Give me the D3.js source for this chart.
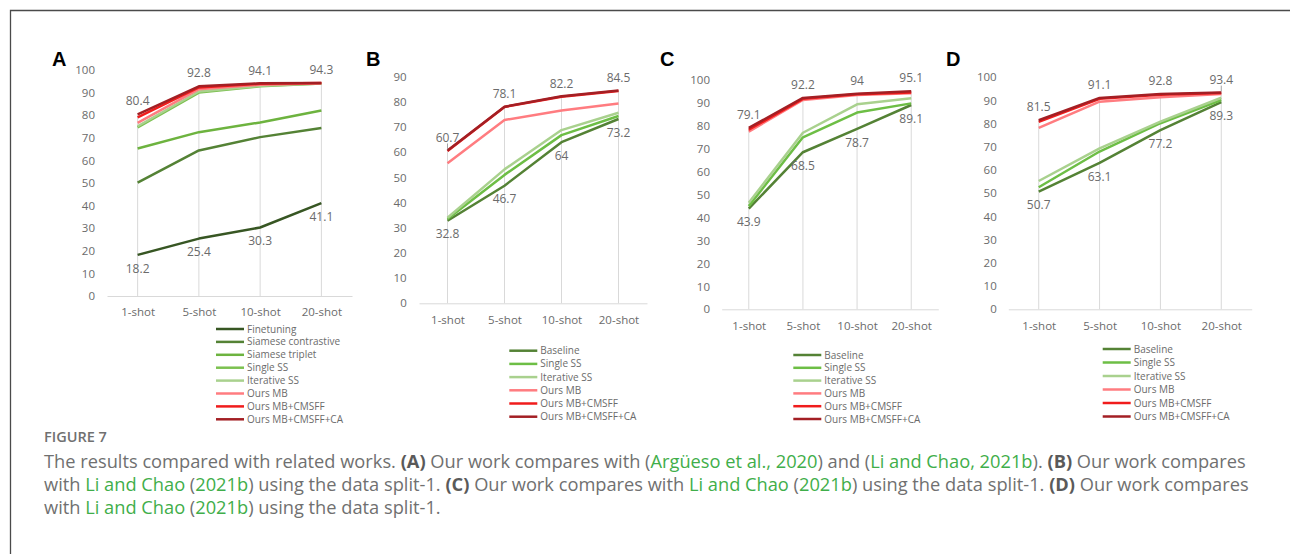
<!DOCTYPE html>
<html><head><meta charset="utf-8">
<script src="https://cdn.jsdelivr.net/npm/d3@7"></script>
<style>body{margin:0;background:#fff} svg{display:block}</style>
</head><body><svg id="c" width="1290" height="554"></svg>
<script>
const categories = ["1-shot", "5-shot", "10-shot", "20-shot"];

// ---- Panel A ----
const namesA = ["Finetuning", "Siamese contrastive", "Siamese triplet", "Single SS", "Iterative SS", "Ours MB", "Ours MB+CMSFF", "Ours MB+CMSFF+CA"];
const finetuningA = [18.2, 25.4, 30.3, 41.1];
const siameseContrastiveA = [50.2, 64.4, 70.3, 74.3];
const siameseTripletA = [65.3, 72.5, 76.8, 82.1];
const singleSSA = [74.6, 90.0, 92.8, 94.0];
const iterativeSSA = [75.1, 90.5, 93.0, 94.0];
const oursMBA = [76.6, 91.5, 93.5, 94.1];
const oursCMSFFA = [79.0, 92.3, 93.9, 94.2];
const oursCAA = [80.4, 92.8, 94.1, 94.3];
const yTicksA = [0, 10, 20, 30, 40, 50, 60, 70, 80, 90, 100];

// ---- Panel B ----
const namesB = ["Baseline", "Single SS", "Iterative SS", "Ours MB", "Ours MB+CMSFF", "Ours MB+CMSFF+CA"];
const baselineB = [32.8, 46.7, 64.0, 73.2];
const singleSSB = [33.5, 51.0, 66.8, 74.4];
const iterativeSSB = [34.0, 53.2, 68.8, 75.7];
const oursMBB = [55.6, 72.8, 76.6, 79.4];
const oursCMSFFB = [60.5, 78.0, 82.0, 84.3];
const oursCAB = [60.7, 78.1, 82.2, 84.5];
const yTicksB = [0, 10, 20, 30, 40, 50, 60, 70, 80, 90];

// ---- Panel C ----
const namesC = ["Baseline", "Single SS", "Iterative SS", "Ours MB", "Ours MB+CMSFF", "Ours MB+CMSFF+CA"];
const baselineC = [43.9, 68.5, 78.7, 89.1];
const singleSSC = [45.0, 75.0, 85.8, 89.8];
const iterativeSSC = [46.5, 77.0, 89.4, 92.0];
const oursMBC = [77.5, 91.3, 93.5, 94.2];
const oursCMSFFC = [78.3, 91.8, 93.8, 94.6];
const oursCAC = [79.1, 92.2, 94.0, 95.1];
const yTicksC = [0, 10, 20, 30, 40, 50, 60, 70, 80, 90, 100];

// ---- Panel D ----
const namesD = ["Baseline", "Single SS", "Iterative SS", "Ours MB", "Ours MB+CMSFF", "Ours MB+CMSFF+CA"];
const baselineD = [50.7, 63.1, 77.2, 89.3];
const singleSSD = [52.6, 68.0, 80.2, 90.2];
const iterativeSSD = [55.3, 69.4, 80.9, 91.2];
const oursMBD = [78.2, 89.5, 91.4, 92.8];
const oursCMSFFD = [80.8, 90.7, 92.5, 93.2];
const oursCAD = [81.5, 91.1, 92.8, 93.4];
const yTicksD = [0, 10, 20, 30, 40, 50, 60, 70, 80, 90, 100];

const captionTitle = "FIGURE 7";
const captionLines = [
  [["The results compared with related works. ", "n"], ["(A)", "b"], [" Our work compares with (", "n"], ["Argüeso et al., 2020", "g"], [") and (", "n"], ["Li and Chao, 2021b", "g"], ["). ", "n"], ["(B)", "b"], [" Our work compares", "n"]],
  [["with ", "n"], ["Li and Chao", "g"], [" (", "n"], ["2021b", "g"], [") using the data split-1. ", "n"], ["(C)", "b"], [" Our work compares with ", "n"], ["Li and Chao", "g"], [" (", "n"], ["2021b", "g"], [") using the data split-1. ", "n"], ["(D)", "b"], [" Our work compares", "n"]],
  [["with ", "n"], ["Li and Chao", "g"], [" (", "n"], ["2021b", "g"], [") using the data split-1.", "n"]]
];

// ---- styling / layout ----
const colorsA = ["#375623", "#548235", "#6DB33F", "#7CC150", "#A9D18E", "#FF7C80", "#F01C1C", "#A31F24"];
const colorsBCD = ["#548235", "#6DBE45", "#A9D18E", "#FF7C80", "#F01C1C", "#A31F24"];
const FONT = "'Open Sans', 'DejaVu Sans', sans-serif";

const panels = [
  {letter: "A", names: namesA, values: [finetuningA, siameseContrastiveA, siameseTripletA, singleSSA, iterativeSSA, oursMBA, oursCMSFFA, oursCAA], colors: colorsA, yTicks: yTicksA, yMax: 100, above: oursCAA, below: finetuningA, leaders: [],
   L: {letterX: 52, x0: 107, x1: 352, yBase: 296, yTop: 70, tickX: 95, xLabelY: 312, legX: 216, legY: 329, legDy: 12.9}},
  {letter: "B", names: namesB, values: [baselineB, singleSSB, iterativeSSB, oursMBB, oursCMSFFB, oursCAB], colors: colorsBCD, yTicks: yTicksB, yMax: 90, above: oursCAB, below: baselineB, leaders: [0],
   L: {letterX: 366, x0: 419, x1: 647, yBase: 303.3, yTop: 76.7, tickX: 406.7, xLabelY: 320, legX: 509.3, legY: 350.7, legDy: 13.2}},
  {letter: "C", names: namesC, values: [baselineC, singleSSC, iterativeSSC, oursMBC, oursCMSFFC, oursCAC], colors: colorsBCD, yTicks: yTicksC, yMax: 100, above: oursCAC, below: baselineC, leaders: [],
   L: {letterX: 660, x0: 721.7, x1: 938.3, yBase: 309.3, yTop: 80, tickX: 710, xLabelY: 326, legX: 793.3, legY: 355, legDy: 12.8}},
  {letter: "D", names: namesD, values: [baselineD, singleSSD, iterativeSSD, oursMBD, oursCMSFFD, oursCAD], colors: colorsBCD, yTicks: yTicksD, yMax: 100, above: oursCAD, below: baselineD, leaders: [3],
   L: {letterX: 946, x0: 1008.3, x1: 1251.7, yBase: 309.3, yTop: 77.3, tickX: 996.7, xLabelY: 325.7, legX: 1102.7, legY: 349, legDy: 13.5}}
];

const svg = d3.select("#c");
svg.append("path").attr("d", "M10.5,554 V10.5 H1290").attr("fill", "none").attr("stroke", "#4a4a4a").attr("stroke-width", 1.3);

const GRID = "#d9d9d9", TXT = "#6b6b6b";

panels.forEach(p => {
  const L = p.L;
  const g = svg.append("g");
  const x = d3.scalePoint().domain(categories).range([L.x0, L.x1]).padding(0.5);
  const y = d3.scaleLinear().domain([0, p.yMax]).range([L.yBase, L.yTop]);

  // panel letter
  g.append("text").attr("x", L.letterX).attr("y", 65.5).text(p.letter)
    .attr("font-family", "'Liberation Sans', Arial, sans-serif").attr("font-weight", "bold").attr("font-size", 20).attr("fill", "#000");

  // y axis
  const ya = g.append("g").attr("transform", `translate(${L.x0},0)`)
    .call(d3.axisLeft(y).tickValues(p.yTicks).tickSize(0).tickPadding(L.x0 - L.tickX));
  ya.select(".domain").remove();
  ya.selectAll("text").attr("font-family", FONT).attr("font-size", 11.5).attr("fill", TXT);

  // drop lines
  categories.forEach((c, j) => {
    const m = d3.max(p.values, s => s[j]);
    g.append("line").attr("x1", x(c)).attr("x2", x(c)).attr("y1", y(m)).attr("y2", y(0))
      .attr("stroke", GRID).attr("stroke-width", 1);
  });

  // x axis
  const xa = g.append("g").attr("transform", `translate(0,${L.yBase})`)
    .call(d3.axisBottom(x).tickSize(0).tickSizeOuter(0).tickPadding(L.xLabelY - L.yBase - 4.2));
  xa.select(".domain").attr("stroke", GRID);
  xa.selectAll("text").attr("font-family", FONT).attr("font-size", 11.5).attr("fill", TXT);

  // series lines
  const line = d3.line().x((d, j) => x(categories[j])).y(d => y(d));
  p.values.forEach((s, k) => {
    g.append("path").datum(s).attr("d", line).attr("fill", "none")
      .attr("stroke", p.colors[k]).attr("stroke-width", 2.5).attr("stroke-linejoin", "round");
  });

  // data labels
  const lab = (vals, off) => vals.forEach((v, j) => {
    g.append("text").attr("x", x(categories[j])).attr("y", y(v) + off).attr("dy", "0.35em")
      .attr("text-anchor", "middle").text(d3.format("")(v))
      .attr("font-family", FONT).attr("font-size", 12).attr("fill", TXT);
  });
  lab(p.above, -13);
  lab(p.below, 13.5);
  p.leaders.forEach(j => {
    const cx = x(categories[j]);
    g.append("line").attr("x1", cx).attr("x2", cx).attr("y1", y(p.above[j]) - 7).attr("y2", y(p.above[j]) - 1)
      .attr("stroke", "#8c8c8c").attr("stroke-width", 0.8);
  });

  // legend
  p.names.forEach((n, k) => {
    const ly = L.legY + k * L.legDy;
    g.append("line").attr("x1", L.legX).attr("x2", L.legX + 28).attr("y1", ly).attr("y2", ly)
      .attr("stroke", p.colors[k]).attr("stroke-width", 2.5);
    g.append("text").attr("x", L.legX + 31).attr("y", ly).attr("dy", "0.35em").text(n)
      .attr("font-family", FONT).attr("font-size", 10).attr("fill", TXT);
  });
});

// caption
const cap = svg.append("g");
cap.append("text").attr("x", 44).attr("y", 442).text(captionTitle)
  .attr("font-family", FONT).attr("font-weight", 600).attr("font-size", 14.5).attr("fill", "#707070");

const lineY = [468, 491, 514];
const texts = captionLines.map((segs, i) => {
  const t = cap.append("text").attr("x", 44).attr("y", lineY[i])
    .attr("font-family", FONT).attr("font-size", 16).attr("fill", "#707070");
  segs.forEach(([s, k]) => {
    const ts = t.append("tspan").text(s);
    if (k === "b") ts.attr("font-weight", 700).attr("fill", "#5a5a5a");
    if (k === "g") ts.attr("fill", "#3fae4a");
  });
  return t;
});
const w3 = texts[2].node().getComputedTextLength();
const fs = 16 * 397 / w3;
texts.forEach(t => t.attr("font-size", fs));
</script></body></html>
